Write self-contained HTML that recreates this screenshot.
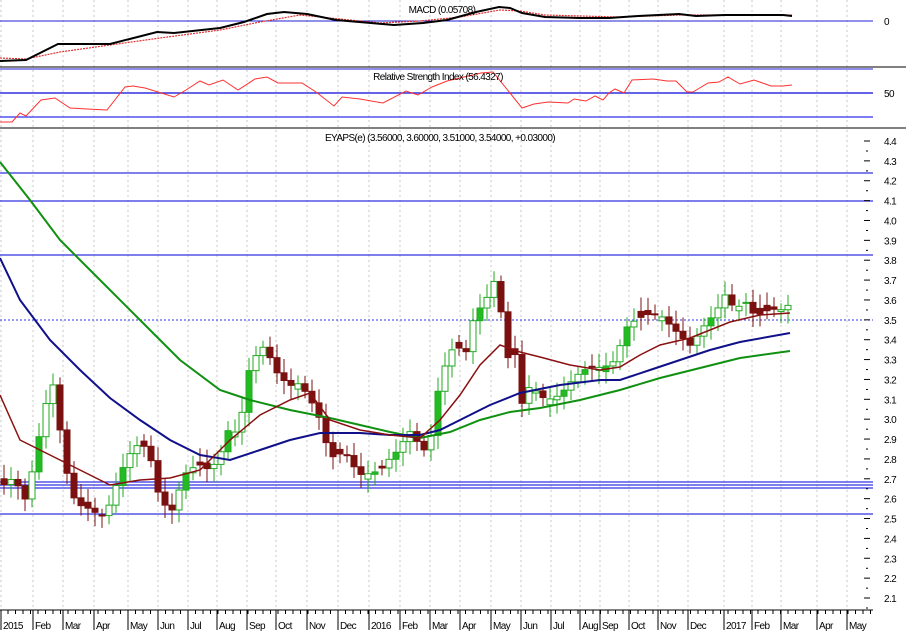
<!DOCTYPE html>
<html><head><meta charset="utf-8"><style>
html,body{margin:0;padding:0;background:#fff}
svg{display:block;font-family:"Liberation Sans",sans-serif}
text{letter-spacing:-0.6px}
</style></head><body>
<svg id="s" width="906" height="633" viewBox="0 0 906 633" xmlns="http://www.w3.org/2000/svg">
<rect width="906" height="633" fill="#fff"/>
<g id="grid"></g>
<line x1="0" y1="67" x2="906" y2="67" stroke="#000" stroke-width="1"/>
<line x1="0" y1="128" x2="906" y2="128" stroke="#000" stroke-width="1"/>
<!-- MACD -->
<line x1="0" y1="21" x2="873" y2="21" stroke="#2020d0" stroke-width="1"/>
<polyline fill="none" stroke="#e03030" stroke-width="1.2" stroke-dasharray="2,1" points="0,58 26,59 60,52 110,45 160,38 220,30 260,22 300,15 340,19 380,23 420,21 460,17 500,10 520,11 545,15 580,16 620,17 680,15 792,15"/>
<polyline fill="none" stroke="#000" stroke-width="2" points="0,61 26,60 58,44 70,44 110,44 157,32 174,33 220,28 244,22 267,14 284,12 307,14 336,20 371,23 394,25 423,23 447,20 476,12 499,7 510,8 522,13 545,17 580,18 609,18 638,16 679,14 696,16 725,15 783,15 792,16"/>
<text x="442" y="13" font-size="10" text-anchor="middle" fill="#000">MACD (0.05708)</text>
<text x="884" y="25" font-size="10" fill="#000">0</text>
<!-- RSI -->
<line x1="0" y1="69" x2="873" y2="69" stroke="#2020d0"/>
<line x1="0" y1="93" x2="873" y2="93" stroke="#3030e0" stroke-width="1.5"/>
<line x1="0" y1="117" x2="873" y2="117" stroke="#5050f0" stroke-width="1.5"/>
<polyline fill="none" stroke="#ff3030" stroke-width="1" points="0,122 12,122 20,113 26,116 41,100 55,98 70,108 87,109 107,110 125,87 133,86 145,88 174,97 186,90 200,81 209,85 223,80 238,90 255,79 267,77 278,83 302,83 316,92 334,106 342,97 360,99 383,103 406,91 418,95 432,87 447,81 464,77 481,73 493,72 510,93 522,108 534,104 548,102 568,103 574,99 586,101 595,96 603,100 609,93 615,89 624,93 632,80 653,79 667,81 676,81 687,92 693,92 708,83 719,82 728,77 740,84 754,80 771,86 783,86 792,85"/>
<text x="438" y="80" font-size="10" text-anchor="middle" fill="#000">Relative Strength Index (56.4327)</text>
<text x="884" y="97" font-size="10" fill="#000">50</text>
<!-- main -->
<text x="440" y="141" font-size="10" text-anchor="middle" fill="#000">EYAPS(e) (3.56000, 3.60000, 3.51000, 3.54000, +0.03000)</text>
<g id="hl"></g>
<g id="candles"></g>
<polyline fill="none" stroke="#109010" stroke-width="2" points="0,162 30,200 60,240 100,280 140,320 180,360 220,390 250,400 290,410 330,418 360,425 390,432 420,438 450,432 480,420 510,412 540,408 580,400 620,390 660,378 700,368 740,358 790,351"/>
<polyline fill="none" stroke="#10108a" stroke-width="2" points="0,258 20,300 50,340 80,370 110,398 140,420 170,440 200,455 230,460 260,450 290,440 320,433 360,433 390,435 420,435 440,430 460,420 490,405 520,393 560,385 600,380 620,380 650,370 680,360 710,350 740,342 790,333"/>
<polyline fill="none" stroke="#8a1010" stroke-width="1.5" points="0,395 20,440 50,455 80,470 110,485 140,480 170,478 200,470 230,440 260,415 290,400 310,393 330,420 360,430 390,435 420,438 440,420 460,395 480,365 500,345 520,352 540,357 570,365 600,370 620,367 640,355 660,345 690,338 710,330 730,322 760,315 790,313"/>
<g id="axis"></g>
</svg>
<script>
const NS="http://www.w3.org/2000/svg";
function el(p,t,a,txt){const e=document.createElementNS(NS,t);for(const k in a)e.setAttribute(k,a[k]);if(txt!==undefined)e.textContent=txt;p.appendChild(e);return e;}
const Y=p=>141+(4.4-p)*198.7;
const grid=document.getElementById('grid'),axis=document.getElementById('axis'),hl=document.getElementById('hl'),cg=document.getElementById('candles');
const months=[[1,"2015"],[33,"Feb"],[63,"Mar"],[94,"Apr"],[128,"May"],[158,"Jun"],[188,"Jul"],[217,"Aug"],[247,"Sep"],[276,"Oct"],[307,"Nov"],[338,"Dec"],[369,"2016"],[400,"Feb"],[430,"Mar"],[460,"Apr"],[491,"May"],[521,"Jun"],[551,"Jul"],[580,"Aug"],[600,"Sep"],[629,"Oct"],[658,"Nov"],[688,"Dec"],[724,"2017"],[752,"Feb"],[781,"Mar"],[817,"Apr"],[847,"May"]];
months.forEach(([x,t])=>{el(grid,'line',{x1:x,y1:0,x2:x,y2:610,stroke:'#c8c8c8','stroke-dasharray':'2,3'});el(axis,'line',{x1:x,y1:610,x2:x,y2:630,stroke:'#000'});el(axis,'text',{x:x+2,y:629,'font-size':10,fill:'#000'},t);});
el(axis,'line',{x1:0,y1:610,x2:873,y2:610,stroke:'#000'});
for(let x=8;x<873;x+=7.5)el(axis,'line',{x1:x,y1:610,x2:x,y2:614,stroke:'#000'});
for(let i=0;i<=23;i++){const p=4.4-i*0.1,y=Y(p);el(axis,'line',{x1:864,y1:y,x2:870,y2:y,stroke:'#000'});el(axis,'line',{x1:866,y1:y+10,x2:868,y2:y+10,stroke:'#000'});el(axis,'text',{x:884,y:y+4,'font-size':10,fill:'#000'},p.toFixed(1));}
[173,201,255,482,485,488,514].forEach(y=>el(hl,'line',{x1:0,y1:y,x2:873,y2:y,stroke:'#3030e0','stroke-width':1.2}));
el(hl,'line',{x1:0,y1:320,x2:873,y2:320,stroke:'#3030e0','stroke-dasharray':'2,2'});
const A=[[3,2.65],[14,2.72],[26,2.62],[38,2.9],[45,3.05],[52,3.18],[62,2.85],[70,2.62],[78,2.58],[90,2.58],[105,2.52],[112,2.6],[125,2.75],[135,2.85],[148,2.88],[160,2.62],[172,2.55],[185,2.7],[200,2.75],[210,2.75],[220,2.85],[230,3.0],[238,2.92],[250,3.25],[265,3.35],[275,3.25],[290,3.2],[300,3.2],[318,3.0],[330,2.78],[345,2.85],[360,2.75],[380,2.72],[395,2.8],[410,2.95],[420,2.9],[428,2.85],[440,3.2],[455,3.35],[465,3.3],[475,3.55],[483,3.6],[497,3.75],[506,3.3],[515,3.3],[522,3.05],[530,3.15],[545,3.12],[560,3.15],[575,3.2],[600,3.25],[612,3.3],[628,3.5],[645,3.5],[660,3.5],[680,3.45],[690,3.4],[705,3.47],[715,3.5],[725,3.6],[735,3.55],[745,3.62],[755,3.55],[770,3.55],[780,3.52],[790,3.55]];
function interp(x){for(let i=0;i<A.length-1;i++){if(x>=A[i][0]&&x<=A[i+1][0]){const t=(x-A[i][0])/(A[i+1][0]-A[i][0]);return A[i][1]+t*(A[i+1][1]-A[i][1]);}}return A[A.length-1][1];}
let prev=2.7;
for(let x=4;x<=790;x+=7){
 const c=interp(x)+0.03*Math.sin(x*1.7);
 let o=prev; if(Math.abs(o-c)<0.02)o=c+0.03*Math.cos(x);
 const hi=Math.max(o,c)+0.03+0.04*Math.abs(Math.sin(x*0.37)),lo=Math.min(o,c)-0.03-0.04*Math.abs(Math.cos(x*0.53));
 const up=c>=o,col=up?'#22aa22':'#7a1010';
 el(cg,'line',{x1:x,y1:Y(hi),x2:x,y2:Y(lo),stroke:col});
 const yt=Y(Math.max(o,c)),yb=Y(Math.min(o,c));
 el(cg,'rect',{x:x-3,y:yt,width:6,height:Math.max(1,yb-yt),fill:up?((x%3==0)?'#22bb22':'#fff'):col,stroke:col,'stroke-width':1});
 prev=c;
}
</script>
</body></html>
